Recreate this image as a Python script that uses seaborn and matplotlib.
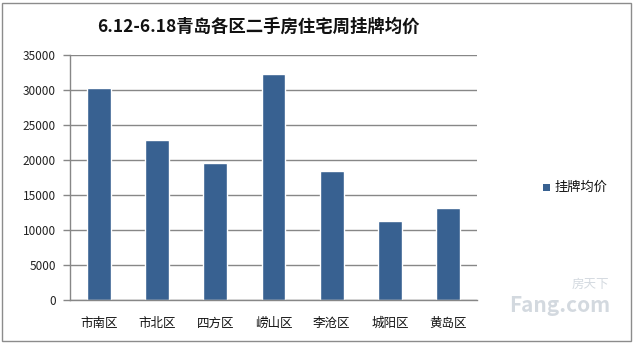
import matplotlib
matplotlib.use("Agg")
import matplotlib.pyplot as plt
import seaborn as sns
import pandas as pd
from matplotlib.patches import Rectangle

categories = ["市南区", "市北区", "四方区", "崂山区", "李沧区", "城阳区", "黄岛区"]
values = [30300, 22900, 19600, 32300, 18400, 11300, 13100]
series_name = "挂牌均价"
title = "6.12-6.18青岛各区二手房住宅周挂牌均价"
yticks = [0, 5000, 10000, 15000, 20000, 25000, 30000, 35000]

sns.set_theme(style="white")
plt.rcParams['font.family'] = ['Noto Sans CJK SC', 'DejaVu Sans']

df = pd.DataFrame({"区": categories, "价格": values, "s": series_name})

fig = plt.figure(figsize=(6.34, 3.43), dpi=100)
ax = fig.add_axes([0.1104, 0.1254, 0.642, 0.7143])
bar_color = "#386191"
sns.barplot(data=df, x="区", y="价格", hue="s", palette=[bar_color], width=0.41,
            ax=ax, legend=False, saturation=1)

ax.set_ylim(0, 35000)
ax.set_xlim(-0.5, len(categories) - 0.5)
ax.set_yticks(yticks)
ax.set_yticklabels([str(v) for v in yticks], fontsize=8.5, color="#222222")
ax.set_xticks(range(len(categories)))
ax.set_xticklabels(categories, fontsize=9, color="#111111")
ax.set_xlabel("")
ax.set_ylabel("")
ax.yaxis.grid(True, color="#878787", linewidth=1)
ax.set_axisbelow(True)
for s in ["top", "right"]:
    ax.spines[s].set_visible(False)
for s in ["left", "bottom"]:
    ax.spines[s].set_color("#878787")
    ax.spines[s].set_linewidth(1)
ax.tick_params(axis="y", which="both", left=True, length=5, color="#878787", width=1, pad=5)
ax.tick_params(axis="x", which="both", bottom=False, pad=6)

# legend
fig.patches.append(Rectangle((543 / 634, 1 - 191 / 343), 7 / 634, 7 / 343,
                             transform=fig.transFigure, facecolor=bar_color, edgecolor="none"))
fig.text(555 / 634, 1 - 187 / 343, series_name, fontsize=9.5, va="center", ha="left", color="#111111")

fig.text(258 / 634, 1 - 27 / 343, title, fontsize=12.5, fontweight="bold", ha="center", va="center",
         color="#111111")

# watermark
fig.text(560 / 634, 1 - 306 / 343, "Fang.com", fontsize=15, fontweight="bold", style="italic",
         color="#c9d0d8", ha="center", va="center", alpha=0.8)
fig.text(590 / 634, 1 - 284 / 343, "房天下", fontsize=9, color="#c9d0d8", ha="center", va="center", alpha=0.8)

# frame
fig.patches.append(Rectangle((2 / 634, 2 / 343), 629 / 634, 338 / 343, transform=fig.transFigure,
                             facecolor="none", edgecolor="#8c8c8c", linewidth=1))

fig.savefig("out.png", dpi=100)
